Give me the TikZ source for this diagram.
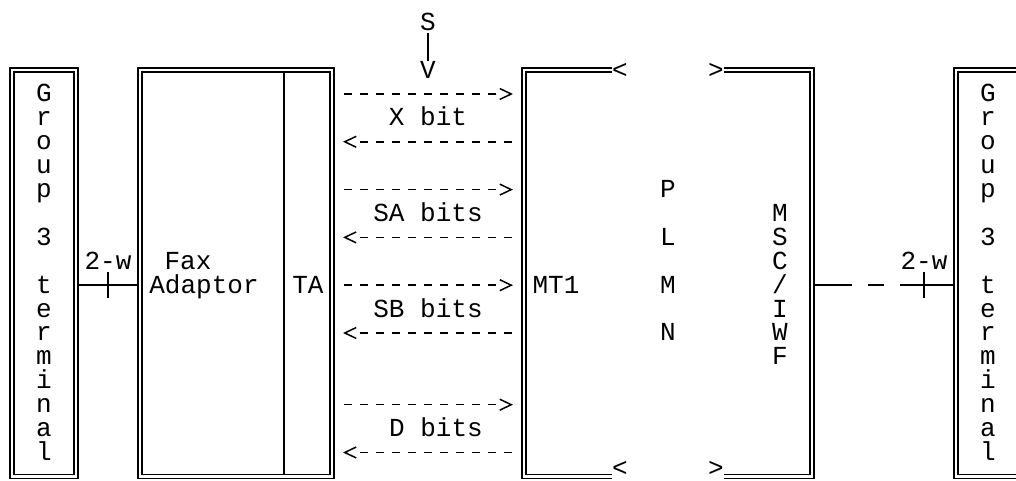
\documentclass[tikz,border=0pt]{standalone}
\usepackage{fontspec}
\newfontfamily\asciifont{Liberation Mono}
\usetikzlibrary{arrows.meta}
\tikzset{
  dbox/.style={rectangle, draw, double, line width=0.8pt, double distance=1.4pt,
               inner sep=0pt, outer sep=0pt, minimum height=8.126cm},
  dline/.style={draw, double, line width=0.8pt, double distance=1.4pt},
  txt/.style={font=\asciifont\fontsize{14.8}{18}\selectfont, inner sep=0pt, anchor=mid,
              yshift=-2.4pt},
  wire/.style={line width=0.8pt, shorten <=1.5pt, shorten >=1.5pt},
  crossbar/.style={line width=0.8pt},
  bits/.style={line width=0.85pt, -{Straight Barb[length=6.5pt, width=6.2pt]},
               shorten <=0.2464cm, shorten >=0.2208cm,
               dash pattern=on 4.19pt off 4.92pt on 4.19pt off 4.92pt on 4.19pt off 4.92pt
                 on 4.19pt off 4.92pt on 4.19pt off 4.92pt on 4.19pt off 4.92pt
                 on 4.19pt off 4.92pt on 4.19pt off 4.92pt on 4.19pt off 4.92pt
                 on 4.19pt off 20pt}
}
\begin{document}
\begin{tikzpicture}[x=0.32cm, y=-0.478cm]
  \useasboundingbox (-21.75,-3.933) rectangle (41.75,16.192);
  \clip (-21.75,-3.933) rectangle (41.75,16.192);
  \foreach \k in {-3,...,16} \coordinate (r\k) at (0,\k);
  % boxes
  \node[dbox, minimum width=1.28cm] (grpL) at (-19,7.5) {};
  \node[dbox, minimum width=3.84cm] (fax) at (-7,7.5) {};
  \node[inner sep=0pt, outer sep=0pt, minimum width=5.76cm, minimum height=8.126cm] (plmn) at (20,7.5) {};
  \node[dbox, minimum width=1.28cm] (grpR) at (40,7.5) {};
  \draw[line width=0.6pt, shorten <=1.5pt, shorten >=1.5pt] (-4,-1) -- (-4,16);
  \draw[dline] (plmn.north west) ++(5.5,0) -- (plmn.north west) -- (plmn.south west) -- ++(5.5,0);
  \draw[dline] (plmn.north east) ++(-5.5,0) -- (plmn.north east) -- (plmn.south east) -- ++(-5.5,0);
  \foreach \k/\y in {-1/-1,16/15.65} {
    \node[txt] (lt\k) at (17,\y) {<};
    \node[txt] (gt\k) at (23,\y) {>};
  }
  % vertical texts
  \foreach \ltr/\k in {G/0,r/1,o/2,u/3,p/4,3/6,t/8,e/9,r/10,m/11,i/12,n/13,a/14,l/15} {
    \node[txt] (gL\k) at (-19,\k) {\ltr};
    \node[txt] (gR\k) at (40,\k) {\ltr};
  }
  \foreach \ltr/\k in {P/4,L/6,M/8,N/10} \node[txt] (pl\k) at (20,\k) {\ltr};
  \foreach \ltr [count=\k from 5] in {M,S,C,{/},I,W,F} \node[txt] (ms\k) at (27,\k) {\ltr};
  \node[txt] (faxlbl) at (-10,7) {Fax};
  \node[txt] (adlbl) at (-9,8) {Adaptor};
  \node[txt] (talbl) at (-2.5,8) {TA};
  \node[txt] (mtlbl) at (13,8) {MT1};
  % 2-wire lines
  \node[txt] (w2L) at (-15,7) {2-w};
  \node[txt] (w2R) at (36,7) {2-w};
  \draw[wire] (grpL.east |- r8) -- coordinate[pos=0.5] (tkL) (fax.west |- r8);
  \draw[crossbar] (tkL) ++(0,-0.55) -- ++(0,1.1);
  \draw[wire, dash pattern=on 21.2pt off 9.1pt on 9.1pt off 9.1pt on 40pt]
    (plmn.east |- r8) -- coordinate[pos=0.7778] (tkR) (grpR.west |- r8);
  \draw[crossbar] (tkR) ++(0,-0.55) -- ++(0,1.1);
  % S and the bit streams
  \node[txt] (sS) at (5,-3) {S};
  \node[txt] (sV) at (5,-1) {V};
  \draw[line width=0.7pt, shorten <=1pt] (sS) -- (sV);
  \node[txt] (xb) at (5,1) {X bit};
  \node[txt] (sab) at (5,5) {SA bits};
  \node[txt] (sbb) at (5,9) {SB bits};
  \node[txt] (db) at (5.5,14) {D bits};
  \foreach \k in {0,4,8,13} \draw[bits] (fax.east |- r\k) -- (plmn.west |- r\k);
  \foreach \k in {2,6,10,15} \draw[bits] (plmn.west |- r\k) -- (fax.east |- r\k);
\end{tikzpicture}
\end{document}
